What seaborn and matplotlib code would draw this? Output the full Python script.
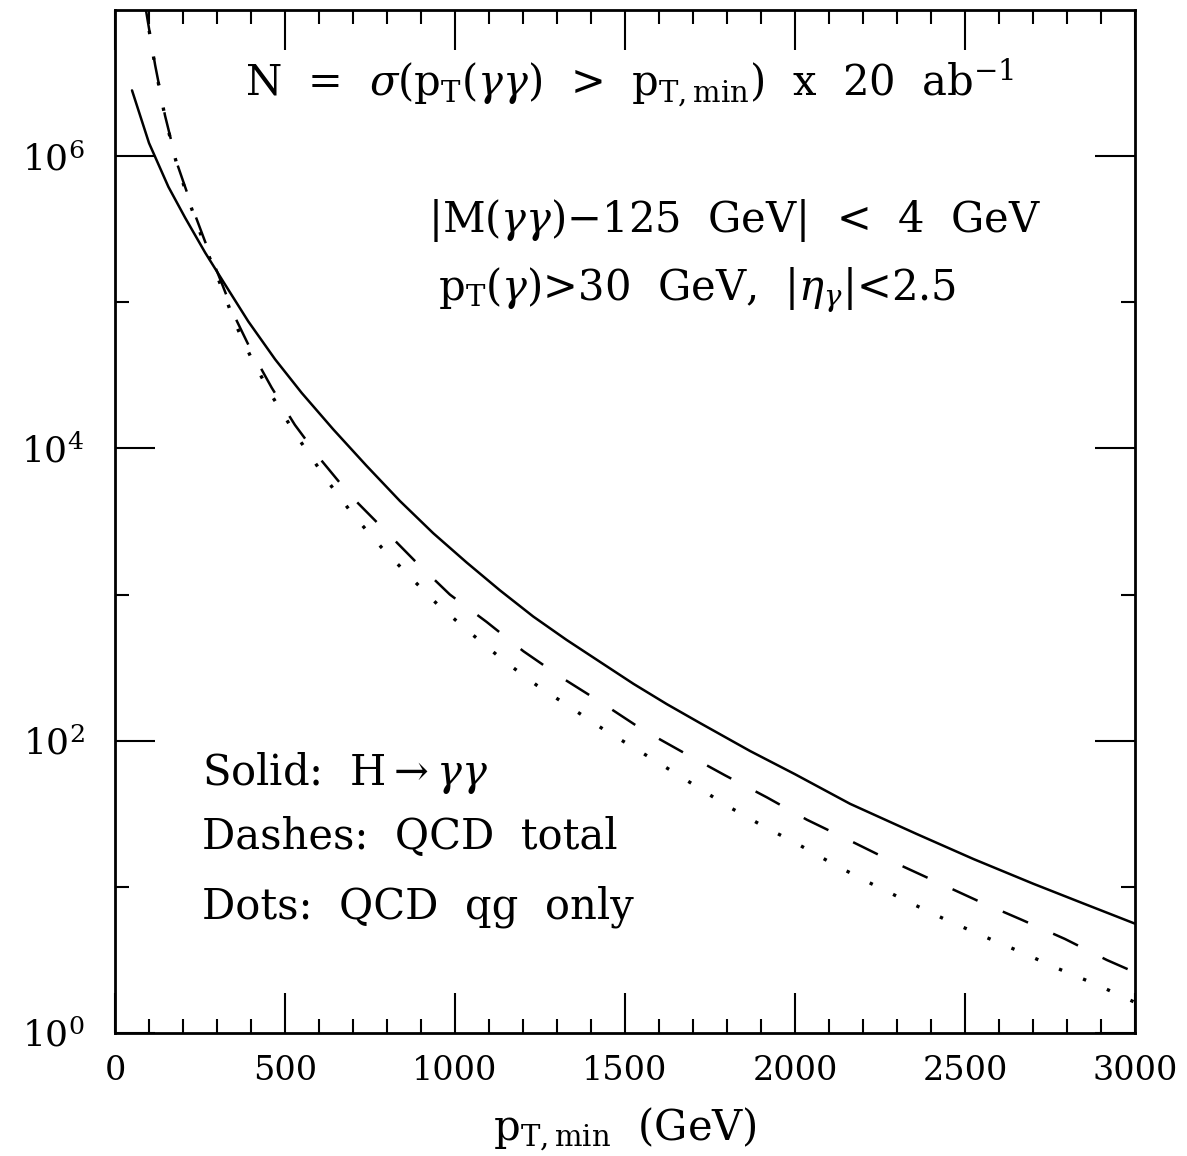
import numpy as np
import pandas as pd
import seaborn as sns
import matplotlib.pyplot as plt
from matplotlib.ticker import MultipleLocator, FixedLocator, NullFormatter

# values (pT,min in GeV, N events)
pt_solid = [50, 100, 157, 206, 265, 324, 392, 471, 549, 642, 740, 838, 936, 1034, 1132,
            1230, 1328, 1426, 1525, 1623, 1721, 1868, 2000, 2162, 2358, 2525, 2701, 2848, 3000]
n_solid = [2.82e6, 1.23e6, 6.17e5, 3.8e5, 2.19e5, 1.32e5, 7.4e4, 4.07e4, 2.4e4, 1.35e4,
           7.6e3, 4.37e3, 2.63e3, 1.66e3, 1.07e3, 708, 490, 347, 245, 178, 132, 85, 59,
           37, 23, 15.5, 10.5, 7.7, 5.6]

pt_dash = [88, 118, 147, 181, 225, 265, 314, 353, 402, 461, 529, 603, 691, 784, 882, 985,
           1093, 1201, 1314, 1431, 1549, 1672, 1794, 1917, 2035, 2162, 2289, 2417, 2539,
           2667, 2794, 2917, 3000]
n_dash = [1.1e7, 4.2e6, 1.9e6, 9.1e5, 4.6e5, 2.6e5, 1.35e5, 7.9e4, 4.6e4, 2.6e4, 1.45e4,
          8.5e3, 4.8e3, 2.9e3, 1.7e3, 1.0e3, 650, 410, 270, 182, 120, 83, 58, 41, 28.8,
          20.7, 14.8, 10.8, 8.0, 5.95, 4.4, 3.16, 2.6]

pt_dot = [88, 118, 147, 181, 225, 265, 314, 353, 402, 461, 529, 627, 701, 784, 868, 950,
          1044, 1142, 1240, 1338, 1436, 1593, 1696, 1799, 1907, 2010, 2118, 2225, 2333,
          2441, 2554, 2662, 2775, 2888, 3000]
n_dot = [1.08e7, 4.1e6, 1.86e6, 8.9e5, 4.4e5, 2.4e5, 1.26e5, 7.2e4, 4.1e4, 2.3e4, 1.27e4,
         5.9e3, 3.5e3, 2.1e3, 1.32e3, 850, 550, 355, 240, 170, 120, 72, 51, 36, 26, 19.5,
         14.1, 10.5, 7.9, 6.0, 4.6, 3.6, 2.75, 2.14, 1.62]

sns.set_theme(style="ticks")
plt.rcParams['font.family'] = ['DejaVu Serif']
plt.rcParams['mathtext.fontset'] = 'dejavuserif'

fig = plt.figure(figsize=(11.87, 11.56), dpi=100)
ax = fig.add_axes([0.0969, 0.1064, 0.8593, 0.8849])

sns.lineplot(x=pt_solid, y=n_solid, ax=ax, color="black", lw=1.8)
sns.lineplot(x=pt_dash, y=n_dash, ax=ax, color="black", lw=1.8, linestyle=(0, (11, 11)))
sns.lineplot(x=pt_dot, y=n_dot, ax=ax, color="black", lw=2.4, linestyle=(0, (1, 6.8)))

ax.set_yscale("log")
ax.set_xlim(0, 3000)
ax.set_ylim(1, 1e7)

ax.xaxis.set_major_locator(MultipleLocator(500))
ax.xaxis.set_minor_locator(MultipleLocator(100))
ax.yaxis.set_major_locator(FixedLocator([1, 1e2, 1e4, 1e6]))
ax.yaxis.set_minor_locator(FixedLocator([10, 1e3, 1e5]))
ax.yaxis.set_minor_formatter(NullFormatter())
ax.set_yticklabels([r'$10^{0}$', r'$10^{2}$', r'$10^{4}$', r'$10^{6}$'])

ax.tick_params(which="both", direction="in", top=True, right=True, color="black",
               width=1.5, labelcolor="black")
ax.tick_params(which="major", length=29)
ax.tick_params(which="minor", length=10)
ax.tick_params(axis="x", which="major", labelsize=24, pad=16)
ax.tick_params(axis="y", which="major", labelsize=26, pad=22)

for s in ax.spines.values():
    s.set_visible(True)
    s.set_linewidth(2)
    s.set_color("black")

ax.set_xlabel(r'p$_{\mathrm{T,min}}$  (GeV)', fontsize=30, labelpad=13, color="black")
ax.set_ylabel("")

txt = dict(transform=ax.transAxes, fontsize=30, color="black", va="baseline")
ax.text(0.505, 0.915, r'N  =  $\sigma$(p$_{\mathrm{T}}$($\gamma\gamma$)  >  p$_{\mathrm{T,min}}$)  x  20  ab$^{-1}$',
        ha="center", **txt)
ax.text(0.307, 0.783, r'|M($\gamma\gamma$)$-$125  GeV|  <  4  GeV', ha="left", **txt)
ax.text(0.317, 0.7165, r'p$_{\mathrm{T}}$($\gamma$)>30  GeV,  |$\eta_{\gamma}$|<2.5', ha="left", **txt)
ax.text(0.085, 0.242, r'Solid:  H$\rightarrow\gamma\gamma$', ha="left", **txt)
ax.text(0.085, 0.180, 'Dashes:  QCD  total', ha="left", **txt)
ax.text(0.085, 0.112, 'Dots:  QCD  qg  only', ha="left", **txt)

fig.savefig("out.png", dpi=100, facecolor="white")
